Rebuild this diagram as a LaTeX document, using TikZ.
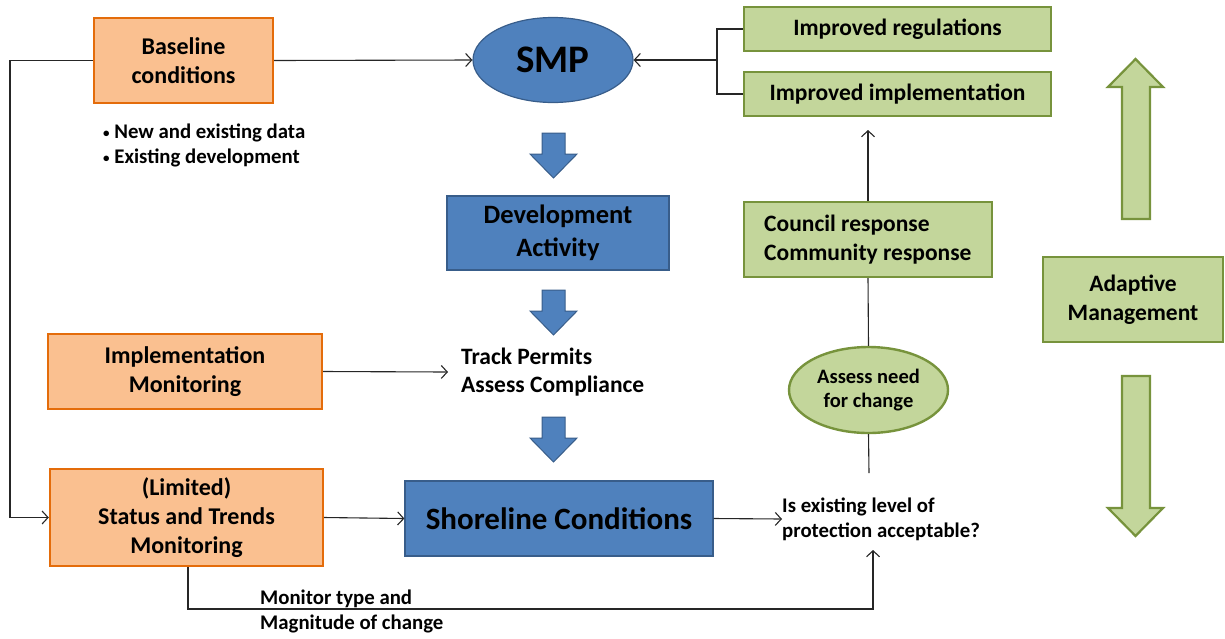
\documentclass[tikz,border=0pt]{standalone}
\usepackage{fontspec}
\setmainfont{Carlito}
\usetikzlibrary{arrows.meta,shapes.geometric}
\definecolor{orFill}{HTML}{FAC090}
\definecolor{orLine}{HTML}{E46C0A}
\definecolor{bluFill}{HTML}{4F81BD}
\definecolor{bluLine}{HTML}{385D8A}
\definecolor{grFill}{HTML}{C3D69B}
\definecolor{grLine}{HTML}{77933C}
\newcommand{\smallbul}{{\fontsize{13}{13}\selectfont\raisebox{1pt}{\textbullet}}}
\tikzset{
  orbox/.style={draw=orLine, fill=orFill, line width=2.4pt, inner sep=0pt, align=center, font=\fontsize{24}{29}\selectfont\bfseries},
  blubox/.style={draw=bluLine, fill=bluFill, line width=1.2pt, inner sep=0pt, align=center},
  grbox/.style={draw=grLine, fill=grFill, line width=2.4pt, inner sep=0pt, align=center, font=\fontsize{23.5}{29}\selectfont\bfseries},
  plain/.style={inner sep=0pt, font=\fontsize{20.8}{25}\selectfont\bfseries, align=left},
  conn/.style={line width=1.1pt, draw=black!85},
  arr/.style={conn, -{Straight Barb[length=6pt,width=13pt,line width=1.1pt]}},
  bluearrow/.style={fill=bluFill, draw=bluLine, line width=1pt},
  grarrow/.style={fill=grFill, draw=grLine, line width=2.2pt},
}
\begin{document}
\begin{tikzpicture}[x=1pt,y=-1pt]
\useasboundingbox (0,0) rectangle (1225,638);

% orange boxes
\node[orbox, minimum width=179pt, minimum height=85pt] (base) at (183.5,60.5) {Baseline\\conditions};
\node[orbox, minimum width=274pt, minimum height=75pt] (impl) at (185,371.5) {Implementation\\Monitoring};
\node[orbox, minimum width=273pt, minimum height=97pt] (status) at (186.5,517.5) {(Limited)\\Status and Trends\\Monitoring};

% bullets
\node[plain, anchor=north west] (bul) at (103,124) {\smallbul\ New and existing data\\\smallbul\ Existing development};

% blue shapes
\node[draw=bluLine, fill=bluFill, line width=1.2pt, ellipse, minimum width=160pt, minimum height=85pt, inner sep=0pt, font=\fontsize{39}{45}\selectfont\bfseries] (smp) at (553,60) {SMP};
\node[blubox, minimum width=222pt, minimum height=74pt, font=\fontsize{26.5}{33}\selectfont\bfseries] (dev) at (558,233) {Development\\Activity};
\node[blubox, minimum width=308pt, minimum height=75pt, font=\fontsize{31}{36}\selectfont\bfseries] (shore) at (559,518.5) {Shoreline Conditions};

% track permits
\node[plain, anchor=west, font=\fontsize{23.5}{28}\selectfont\bfseries] (track) at (461,372) {Track Permits\\Assess Compliance};

% green boxes
\node[grbox, minimum width=307pt, minimum height=44pt] (reg) at (897.5,29) {Improved regulations};
\node[grbox, minimum width=307pt, minimum height=44pt] (imp) at (897.5,94) {Improved implementation};
\node[grbox, minimum width=248pt, minimum height=75pt] (council) at (868,239.5) {};
\node[plain, anchor=west, font=\fontsize{23.5}{29}\selectfont\bfseries] (counciltxt) at (764,240) {Council response\\Community response};
\node[draw=grLine, fill=grFill, line width=2.4pt, ellipse, minimum width=159pt, minimum height=86pt, inner sep=0pt, align=center, font=\fontsize{20.5}{24}\selectfont\bfseries] (assess) at (868.5,390) {Assess need\\for change};
\node[grbox, minimum width=180pt, minimum height=85pt] (adapt) at (1133,299.5) {Adaptive\\Management};

% question text
\node[plain, anchor=west] (q) at (782,519) {Is existing level of\\protection acceptable?};
\coordinate (qtop) at (869,473);
\coordinate (qbot) at (873,550);

% monitor text
\node[plain, anchor=west] (mon) at (260,611) {Monitor type and\\Magnitude of change};

% connectors
\draw[arr] (base.east) -- (smp.west);
\draw[arr] (base.west) -- (10,60.5) |- (status.west);
\coordinate (brk) at (717,60);
\draw[conn] (reg.west) -| (brk) |- (imp.west);
\draw[arr] (brk) -- (smp.east);
\draw[arr] (council.north) -- (868,130);
\draw[conn] (council.south) -- (assess.north);
\draw[conn] (assess.south) -- (qtop);
\draw[arr] (impl.east) -- (448,372);
\draw[arr] (status.east) -- (shore.west);
\draw[arr] (shore.east) -- (q.west);
\draw[arr] (status.south -| 188,0) -- (188,609) -| (qbot);

% blue block arrows
\foreach \t in {133,290,417}{
  \draw[bluearrow] (542,\t) -- (565,\t) -- (565,\t+21) -- (577,\t+21) -- (553.5,\t+45) -- (530,\t+21) -- (542,\t+21) -- cycle;
}
% green block arrows
\draw[grarrow] (1122,219) -- (1150,219) -- (1150,87) -- (1163,87) -- (1135.5,59) -- (1108,87) -- (1122,87) -- cycle;
\draw[grarrow] (1122,376) -- (1150,376) -- (1150,508) -- (1163,508) -- (1135.5,536) -- (1108,508) -- (1122,508) -- cycle;
\end{tikzpicture}
\end{document}
